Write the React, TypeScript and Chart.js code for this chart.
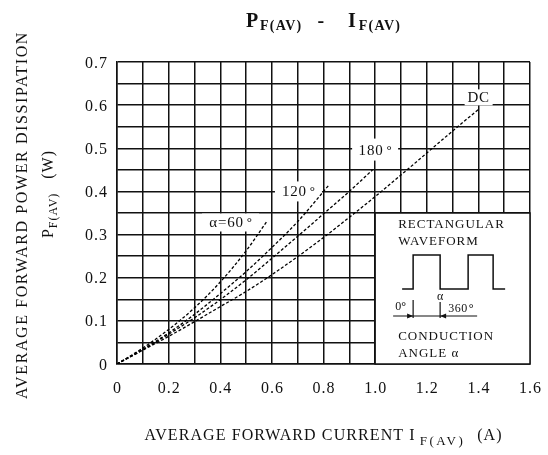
import React, { useEffect, useRef } from "react";
import { Chart, registerables } from "chart.js";

Chart.register(...registerables);

// ---- data ----
const dcI = [0, 0.1, 0.2, 0.3, 0.4, 0.5, 0.6, 0.7, 0.8, 0.9, 1.0, 1.1, 1.2, 1.3, 1.4];
const dcP = [0, 0.032, 0.064, 0.098, 0.133, 0.168, 0.207, 0.249, 0.293, 0.34, 0.388, 0.438, 0.489, 0.54, 0.59];

const a180I = [0, 0.1, 0.2, 0.3, 0.4, 0.5, 0.6, 0.7, 0.8, 0.9, 0.99];
const a180P = [0, 0.033, 0.069, 0.107, 0.149, 0.195, 0.245, 0.296, 0.348, 0.4, 0.45];

const a120I = [0, 0.1, 0.2, 0.3, 0.4, 0.5, 0.6, 0.7, 0.82];
const a120P = [0, 0.034, 0.072, 0.115, 0.163, 0.214, 0.27, 0.33, 0.414];

const a60I = [0, 0.1, 0.2, 0.3, 0.4, 0.5, 0.58];
const a60P = [0, 0.037, 0.08, 0.13, 0.19, 0.262, 0.33];

const xTickValues = [0, 0.2, 0.4, 0.6, 0.8, 1.0, 1.2, 1.4, 1.6];
const xTickLabels = ["0", "0.2", "0.4", "0.6", "0.8", "1.0", "1.2", "1.4", "1.6"];
const yTickValues = [0, 0.1, 0.2, 0.3, 0.4, 0.5, 0.6, 0.7];
const yTickLabels = ["0", "0.1", "0.2", "0.3", "0.4", "0.5", "0.6", "0.7"];

const FONT = '"Liberation Serif", "Times New Roman", serif';
const INK = "#111";

type Run = { t: string; size: number; bold?: boolean; dy?: number; ls?: number; gap?: number };

function setFont(ctx: CanvasRenderingContext2D, r: Run) {
  ctx.font = `${r.bold ? "bold " : ""}${r.size}px ${FONT}`;
  (ctx as any).letterSpacing = `${r.ls || 0}px`;
}
function runsWidth(ctx: CanvasRenderingContext2D, runs: Run[]) {
  let w = 0;
  for (const r of runs) {
    setFont(ctx, r);
    w += ctx.measureText(r.t).width + (r.gap || 0);
  }
  return w;
}
function drawRuns(
  ctx: CanvasRenderingContext2D,
  runs: Run[],
  x: number,
  y: number,
  align: "left" | "center" | "right"
) {
  const w = runsWidth(ctx, runs);
  let cx = align === "center" ? x - w / 2 : align === "right" ? x - w : x;
  ctx.textAlign = "left";
  ctx.textBaseline = "alphabetic";
  for (const r of runs) {
    setFont(ctx, r);
    ctx.fillText(r.t, cx, y + (r.dy || 0));
    cx += ctx.measureText(r.t).width + (r.gap || 0);
  }
  (ctx as any).letterSpacing = "0px";
}

const decorPlugin = {
  id: "decor",
  beforeDatasetsDraw(chart: any) {
    const ctx: CanvasRenderingContext2D = chart.ctx;
    const xs = chart.scales.x;
    const ys = chart.scales.y;
    const area = chart.chartArea;
    ctx.save();
    ctx.fillStyle = INK;
    ctx.strokeStyle = INK;

    // inset box
    const x0 = xs.getPixelForValue(1.0);
    const y0 = ys.getPixelForValue(0.35);
    ctx.fillStyle = "#fff";
    ctx.fillRect(x0, y0, area.right - x0, area.bottom - y0);
    ctx.lineWidth = 1.5;
    ctx.strokeRect(x0, y0, area.right - x0, area.bottom - y0);
    ctx.fillStyle = INK;
    drawRuns(ctx, [{ t: "RECTANGULAR", size: 13, ls: 1 }], x0 + 23, y0 + 15, "left");
    drawRuns(ctx, [{ t: "WAVEFORM", size: 13, ls: 1 }], x0 + 23, y0 + 32, "left");
    // waveform
    ctx.lineWidth = 1.5;
    ctx.beginPath();
    const bl = y0 + 76;
    const tp = y0 + 42;
    ctx.moveTo(x0 + 27, bl);
    ctx.lineTo(x0 + 38, bl);
    ctx.lineTo(x0 + 38, tp);
    ctx.lineTo(x0 + 65, tp);
    ctx.lineTo(x0 + 65, bl);
    ctx.lineTo(x0 + 93, bl);
    ctx.lineTo(x0 + 93, tp);
    ctx.lineTo(x0 + 118, tp);
    ctx.lineTo(x0 + 118, bl);
    ctx.lineTo(x0 + 130, bl);
    ctx.stroke();
    // dimension line
    const dl = y0 + 103;
    ctx.lineWidth = 1.2;
    ctx.beginPath();
    ctx.moveTo(x0 + 18, dl);
    ctx.lineTo(x0 + 102, dl);
    ctx.moveTo(x0 + 38, y0 + 87);
    ctx.lineTo(x0 + 38, dl + 2);
    ctx.moveTo(x0 + 65, y0 + 89);
    ctx.lineTo(x0 + 65, dl + 2);
    ctx.stroke();
    ctx.beginPath();
    ctx.moveTo(x0 + 38, dl);
    ctx.lineTo(x0 + 32, dl - 2.5);
    ctx.lineTo(x0 + 32, dl + 2.5);
    ctx.closePath();
    ctx.moveTo(x0 + 65, dl);
    ctx.lineTo(x0 + 71, dl - 2.5);
    ctx.lineTo(x0 + 71, dl + 2.5);
    ctx.closePath();
    ctx.fill();
    drawRuns(ctx, [{ t: "0", size: 12 }, { t: "°", size: 12, bold: true }], x0 + 20, y0 + 97, "left");
    drawRuns(ctx, [{ t: "α", size: 12 }], x0 + 65, y0 + 87, "center");
    drawRuns(ctx, [{ t: "360", size: 12, ls: 0.5, gap: 1 }, { t: "°", size: 12, bold: true }], x0 + 73, y0 + 99, "left");
    drawRuns(ctx, [{ t: "CONDUCTION", size: 13, ls: 1 }], x0 + 23, y0 + 127, "left");
    drawRuns(ctx, [{ t: "ANGLE ", size: 13, ls: 1 }, { t: "α", size: 13 }], x0 + 23, y0 + 144, "left");

    // curve labels with white backgrounds
    const labels: { t: string; x: number; y: number; w: number; h: number; deg: boolean }[] = [
      { t: "α=60", x: 0.44, y: 0.328, w: 57, h: 18, deg: true },
      { t: "120", x: 0.703, y: 0.4, w: 47, h: 20, deg: true },
      { t: "180", x: 1.0, y: 0.497, w: 46, h: 22, deg: true },
      { t: "DC", x: 1.401, y: 0.618, w: 28, h: 16, deg: false },
    ];
    for (const l of labels) {
      const px = xs.getPixelForValue(l.x);
      const py = ys.getPixelForValue(l.y);
      ctx.fillStyle = "#fff";
      ctx.fillRect(px - l.w / 2, py - l.h / 2, l.w, l.h);
      ctx.fillStyle = INK;
      const runs: Run[] = [{ t: l.t, size: 15, ls: 0.8, gap: l.deg ? 3 : 0 }];
      if (l.deg) runs.push({ t: "°", size: 13, bold: true, dy: -1 });
      drawRuns(ctx, runs, px, py + 5, "center");
    }
    ctx.restore();
  },
  afterDraw(chart: any) {
    const ctx: CanvasRenderingContext2D = chart.ctx;
    const xs = chart.scales.x;
    const ys = chart.scales.y;
    const area = chart.chartArea;
    ctx.save();
    ctx.fillStyle = INK;
    // tick labels
    xTickValues.forEach((v, i) => {
      drawRuns(ctx, [{ t: xTickLabels[i], size: 16, ls: 1 }], xs.getPixelForValue(v) + 0.5, 393, "center");
    });
    yTickValues.forEach((v, i) => {
      drawRuns(ctx, [{ t: yTickLabels[i], size: 16, ls: 1 }], 108, ys.getPixelForValue(v) + 5.5, "right");
    });
    const cx = (area.left + area.right) / 2;
    // title
    drawRuns(
      ctx,
      [
        { t: "P", size: 20, bold: true, gap: 2 },
        { t: "F(AV)", size: 14, bold: true, dy: 3, ls: 1.2, gap: 15 },
        { t: "-", size: 20, bold: true, gap: 24 },
        { t: "I", size: 20, bold: true, gap: 3 },
        { t: "F(AV)", size: 14, bold: true, dy: 3, ls: 1.2 },
      ],
      cx,
      27,
      "center"
    );
    // x title
    drawRuns(
      ctx,
      [
        { t: "AVERAGE FORWARD CURRENT I", size: 16, ls: 1.1, gap: 4 },
        { t: "F(AV)", size: 13, ls: 2.5, dy: 5, gap: 12 },
        { t: "(A)", size: 16, ls: 1 },
      ],
      cx,
      440,
      "center"
    );
    // y title
    ctx.save();
    ctx.translate(27, 215);
    ctx.rotate(-Math.PI / 2);
    drawRuns(ctx, [{ t: "AVERAGE FORWARD POWER DISSIPATION", size: 16, ls: 1.6 }], 0, 0, "center");
    ctx.restore();
    ctx.save();
    ctx.translate(53, 194);
    ctx.rotate(-Math.PI / 2);
    drawRuns(
      ctx,
      [
        { t: "P", size: 16, gap: 1 },
        { t: "F(AV)", size: 12, ls: 1, dy: 4, gap: 14 },
        { t: "(W)", size: 16, ls: 1 },
      ],
      0,
      0,
      "center"
    );
    ctx.restore();
    ctx.restore();
  },
};

function series(xsArr: number[], ysArr: number[]) {
  return xsArr.map((x, i) => ({ x, y: ysArr[i] }));
}

export default function App() {
  const ref = useRef<HTMLCanvasElement | null>(null);
  useEffect(() => {
    if (!ref.current) return;
    const common = {
      borderColor: "#000",
      borderWidth: 1.3,
      borderDash: [3, 2],
      pointRadius: 0,
      fill: false,
      cubicInterpolationMode: "monotone" as const,
    };
    const chart = new Chart(ref.current, {
      type: "line",
      data: {
        datasets: [
          { label: "DC", data: series(dcI, dcP), ...common },
          { label: "180°", data: series(a180I, a180P), ...common },
          { label: "120°", data: series(a120I, a120P), ...common },
          { label: "α=60°", data: series(a60I, a60P), ...common },
        ],
      },
      options: {
        animation: false,
        responsive: false,
        layout: { padding: { top: 62, right: 18, left: 0, bottom: 0 } },
        plugins: { legend: { display: false }, title: { display: false }, tooltip: { enabled: false } },
        scales: {
          x: {
            type: "linear",
            min: 0,
            max: 1.6,
            ticks: { stepSize: 0.1, display: false },
            grid: { color: INK, lineWidth: 1.5, drawTicks: false },
            border: { color: INK, width: 1.5 },
            afterFit: (s: any) => {
              s.height = 91;
            },
          },
          y: {
            type: "linear",
            min: 0,
            max: 0.7,
            ticks: { stepSize: 0.05, display: false },
            grid: { color: INK, lineWidth: 1.5, drawTicks: false },
            border: { color: INK, width: 1.5 },
            afterFit: (s: any) => {
              s.width = 117;
            },
          },
        },
      },
      plugins: [decorPlugin],
    });
    return () => chart.destroy();
  }, []);
  return (
    <div style={{ position: "fixed", left: 0, top: 0, width: 548, height: 455, background: "#fff" }}>
      <canvas ref={ref} width={548} height={455} />
    </div>
  );
}
